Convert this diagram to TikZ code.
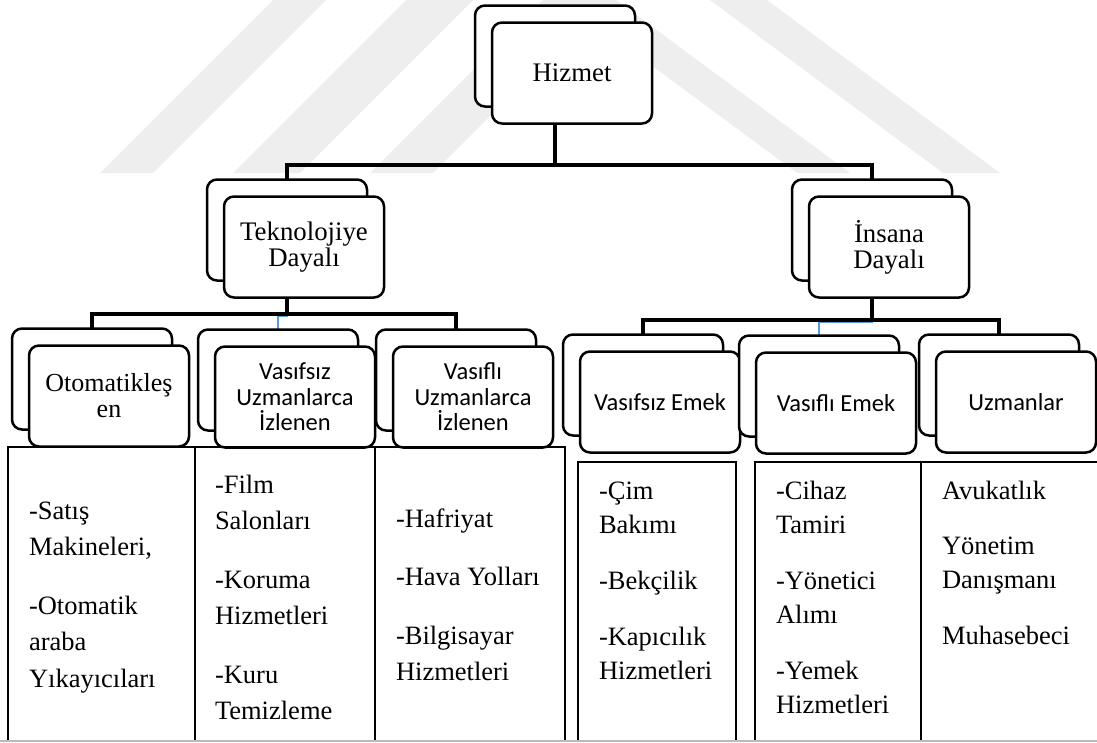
\documentclass[tikz,border=0pt]{standalone}
\usepackage{fontspec}
\setmainfont{Liberation Serif}
\newfontfamily\calibrifont{Carlito}
\definecolor{officeblue}{HTML}{5B9BD5}
\definecolor{wmgray}{HTML}{EEEEEE}
\pgfdeclarelayer{wires}
\pgfsetlayers{wires,main}

\begin{document}
\begin{tikzpicture}[x=1pt, y=-1pt,
  box/.style={draw, line width=2.5pt, rounded corners=10pt, fill=white,
    minimum width=160pt, minimum height=101pt, inner sep=0pt, outer sep=0pt},
  serifhead/.style={align=center, font=\fontsize{26.8}{26}\selectfont},
  serifwide/.style={align=center, font=\fontsize{26}{26}\selectfont},
  sanshead/.style={align=center, font=\calibrifont\fontsize{24.5}{25.5}\selectfont},
  tree/.style={line width=4.5pt},
  hiddenlink/.style={line width=1.5pt, draw=officeblue},
  rule/.style={line width=2pt},
  celltext/.style={anchor=north west, inner sep=0pt, outer sep=0pt, align=left},
  leftcells/.style={celltext, font=\fontsize{26.5}{36.5}\selectfont},
  rightcells/.style={celltext, font=\fontsize{26.5}{34}\selectfont},
  wmband/.style={fill=wmgray}
]
\useasboundingbox (0,0) rectangle (1097,742);

% ---- level 1
\node[box] (hizB) at (555,56) {};
\node[box, serifhead] (hizF) at (572,73) {Hizmet};

% ---- level 2
\node[box] (tekB) at (287,230) {};
\node[box, serifhead] (tekF) at (304,247) {Teknolojiye\\Dayalı};
\node[box] (insB) at (872,230) {};
\node[box, serifhead] (insF) at (889,247) {İnsana\\Dayalı};

% ---- level 3, technology based
\node[box] (otoB) at (92,379) {};
\node[box, serifwide] (otoF) at (109,396) {Otomatikleş\\en};
\node[box] (vuzB) at (278,380) {};
\node[box, sanshead] (vuzF) at (295,397) {Vasıfsız\\Uzmanlarca\\İzlenen};
\node[box] (vfuB) at (456,380) {};
\node[box, sanshead] (vfuF) at (473,397) {Vasıflı\\Uzmanlarca\\İzlenen};

% ---- level 3, people based
\node[box] (vseB) at (643,385) {};
\node[box, sanshead] (vseF) at (660,402) {Vasıfsız Emek};
\node[box] (vfeB) at (819,386) {};
\node[box, sanshead] (vfeF) at (836,403) {Vasıflı Emek};
\node[box] (uzmB) at (999,385) {};
\node[box, sanshead] (uzmF) at (1016,402) {Uzmanlar};

% ---- faint background bands and the tree lines, behind the boxes
\begin{pgfonlayer}{wires}
  \fill[wmband] (100,173) -- (273,0) -- (326,0) -- (153,173) -- cycle;
  \fill[wmband] (233,173) -- (406,0) -- (473,0) -- (300,173) -- cycle;
  \fill[wmband] (370,173) -- (543,0) -- (606,0) -- (433,173) -- cycle;
  \fill[wmband] (943,173) -- (710,0) -- (767,0) -- (1000,173) -- cycle;
  \fill[wmband] (797,173) -- (563,0) -- (616,0) -- (850,173) -- cycle;

  \draw[tree] (hizB.south) -- (hizB.south |- 0,165) -| (tekB.north);
  \draw[tree] (hizB.south) -- (hizB.south |- 0,165) -| (insB.north);

  \draw[hiddenlink] (tekB.south) -- (tekB.south |- 0,316) -| (vuzB.north);
  \draw[tree] (tekB.south) -- (tekB.south |- 0,314) -| (otoB.north);
  \draw[tree] (tekB.south) -- (tekB.south |- 0,314) -| (vfuB.north);

  \draw[hiddenlink] (insB.south) -- (insB.south |- 0,322) -| (vfeB.north);
  \draw[tree] (insB.south) -- (insB.south |- 0,320) -| (vseB.north);
  \draw[tree] (insB.south) -- (insB.south |- 0,320) -| (uzmB.north);
\end{pgfonlayer}

% ---- example tables
\draw[rule] (8,742) -- (8,447) -- (565,447) -- (565,742);
\draw[rule] (195,447) -- (195,742);
\draw[rule] (375,447) -- (375,742);
\draw[rule] (578,742) -- (578,462) -- (736,462) -- (736,742);
\draw[rule] (755,742) -- (755,462) -- (1100,462);
\draw[rule] (921,462) -- (921,742);
\draw[gray!55, line width=1.2pt] (0,741) -- (1097,741);

\node[leftcells] (cOto) at (29,493.5)
  {\strut-Satış\\Makineleri,\\[22pt]-Otomatik\\araba\\Yıkayıcıları};
\node[leftcells] (cVuz) at (215,467.5)
  {\strut-Film\\Salonları\\[22pt]-Koruma\\Hizmetleri\\[22pt]-Kuru\\Temizleme};
\node[leftcells] (cVfu) at (396,501.5)
  {\strut-Hafriyat\\[22pt]-Hava Yolları\\[22pt]-Bilgisayar\\Hizmetleri};

\node[rightcells] (cVse) at (599,475.2)
  {\strut-Çim\\Bakımı\\[22pt]-Bekçilik\\[22pt]-Kapıcılık\\Hizmetleri};
\node[rightcells] (cVfe) at (776,475.2)
  {\strut-Cihaz\\Tamiri\\[22pt]-Yönetici\\Alımı\\[22pt]-Yemek\\Hizmetleri};
\node[rightcells] (cUzm) at (942,475.2)
  {\strut Avukatlık\\[21pt]Yönetim\\Danışmanı\\[22pt]Muhasebeci};
\end{tikzpicture}
\end{document}
